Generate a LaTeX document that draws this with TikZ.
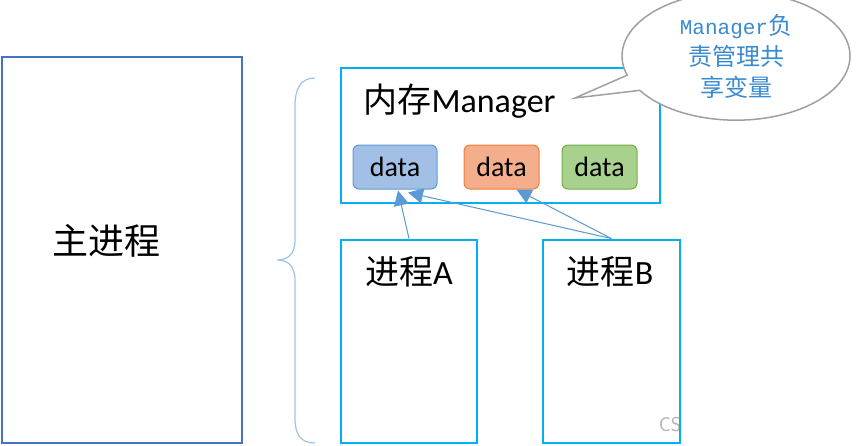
\documentclass[tikz,border=0pt]{standalone}
\usepackage{fontspec}
\setmainfont{Carlito}
\newfontfamily\cjk{Noto Sans CJK SC}
\newfontfamily\notemono{Liberation Mono}
\usetikzlibrary{arrows.meta, shapes.callouts}
\definecolor{mainblue}{HTML}{4472C4}
\definecolor{boxcyan}{HTML}{00B0F0}
\definecolor{bracecol}{HTML}{9DC3E6}
\definecolor{arrowcol}{HTML}{5B9BD5}
\definecolor{notegray}{HTML}{A0A0A0}
\definecolor{notetext}{HTML}{3A8AD0}
\definecolor{dataAfill}{HTML}{A2C0E6}
\definecolor{dataBfill}{HTML}{F5AE8C}
\definecolor{dataBline}{HTML}{ED7D31}
\definecolor{dataCfill}{HTML}{A9D18E}
\definecolor{dataCline}{HTML}{70AD47}

\begin{document}
\begin{tikzpicture}[x=1pt, y=-1pt, >={Triangle[length=15pt, width=15pt]},
        mainbox/.style={rectangle, draw=mainblue, line width=2.4pt, inner sep=0pt},
        procbox/.style={rectangle, draw=boxcyan, line width=2.8pt, inner sep=0pt},
        databox/.style={rectangle, rounded corners=6pt, line width=1pt, minimum width=75pt, minimum height=44pt, font=\fontsize{28}{32}\selectfont},
        title/.style={font=\fontsize{34}{40}\selectfont},
        link/.style={->, draw=arrowcol, fill=arrowcol, line width=1pt}]
    \useasboundingbox (0,0) rectangle (865,445);

    % Nodes
    \node[mainbox, minimum width=240pt, minimum height=386pt] (main) at (122,250) {};
    \node[font=\cjk\fontsize{36}{40}\selectfont] (mainlabel) at (106,241) {主进程};

    \node[text=gray!60, font=\sffamily\fontsize{20}{22}\selectfont] (mark) at (670,425) {CS};

    \node[procbox, minimum width=319pt, minimum height=135pt] (mgr) at (500.5,135.5) {};
    \node[title, anchor=west] (mgrlabel) at (360,101) {{\cjk 内存}Manager};
    \node[databox, minimum width=84pt, draw=arrowcol, fill=dataAfill] (dA) at (395,167) {data};
    \node[databox, draw=dataBline, fill=dataBfill] (dB) at (501.5,167) {data};
    \node[databox, draw=dataCline, fill=dataCfill] (dC) at (599.5,167) {data};

    \node[procbox, minimum width=136pt, minimum height=203pt] (pA) at (409,341.5) {};
    \node[title] (pAlabel) at (409,272) {{\cjk 进程}A};
    \node[procbox, minimum width=137pt, minimum height=203pt] (pB) at (611.5,341.5) {};
    \node[title] (pBlabel) at (610,272) {{\cjk 进程}B};

    % Callout
    \coordinate (ctip) at (575,98);
    \node[ellipse callout, draw=notegray, fill=white, line width=1.5pt, minimum width=228pt, minimum height=108pt,
        callout absolute pointer={(ctip)}, align=center, text=notetext, font=\cjk\fontsize{24}{31}\selectfont]
        (note) at (736,56) {{\notemono\fontsize{21}{31}\selectfont Manager}负\\责管理共\\享变量};

    % Brace
    \draw[bracecol, line width=1.2pt] (315,78) .. controls (301,78) and (295,88) .. (295,106) -- (295,240)
        .. controls (295,253) and (289,260) .. (277,260) .. controls (289,260) and (295,267) .. (295,280)
        -- (295,418) .. controls (295,435) and (301,443) .. (315,443);

    % Edges
    \draw[link] (pA.north) -- ([xshift=3pt, yshift=-1pt]dA.south);
    \draw[link] (pB.north) -- ([xshift=13pt, yshift=-3pt]dA.south);
    \draw[link] (pB.north) -- ([xshift=15pt]dB.south);
\end{tikzpicture}
\end{document}
